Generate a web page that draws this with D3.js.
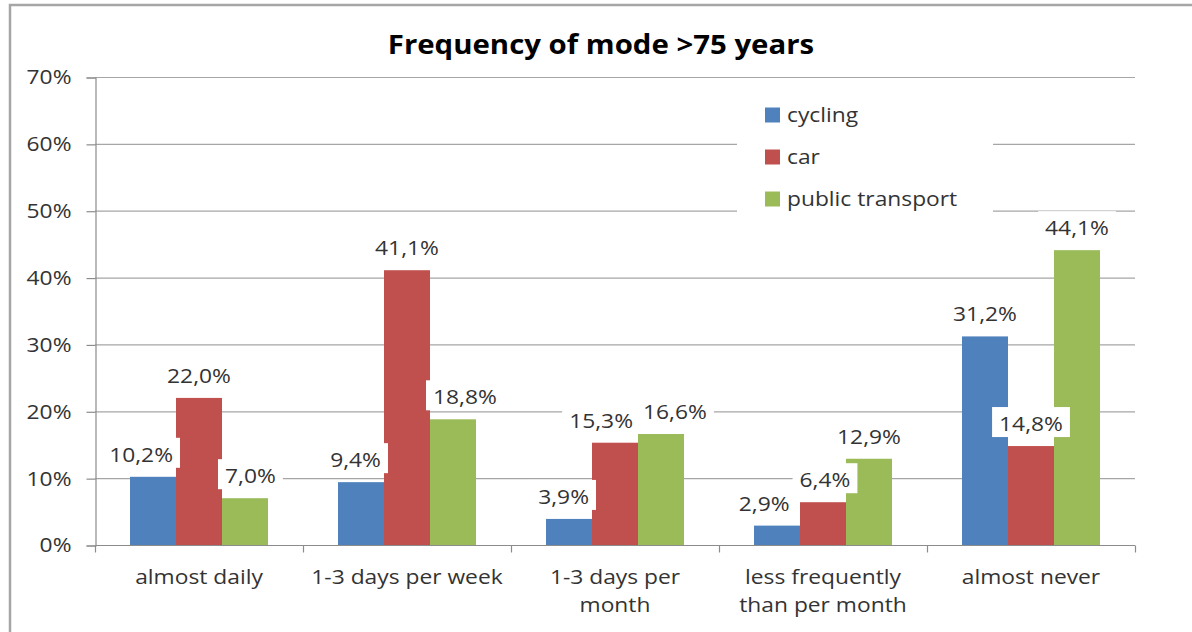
<!DOCTYPE html>
<html><head><meta charset="utf-8">
<script src="https://cdn.jsdelivr.net/npm/d3@7"></script>
<style>body{margin:0;background:#fff;} svg{display:block;} text{font-family:"Open Sans",sans-serif;}</style>
</head><body><svg id="c" width="1192" height="632"></svg>
<script>
const categories = [["almost daily"],["1-3 days per week"],["1-3 days per","month"],["less frequently","than per month"],["almost never"]];
const seriesNames = ["cycling","car","public transport"];
const cycling = [10.2, 9.4, 3.9, 2.9, 31.2];
const car = [22.0, 41.1, 15.3, 6.4, 14.8];
const publicTransport = [7.0, 18.8, 16.6, 12.9, 44.1];
const yTicks = [0,10,20,30,40,50,60,70];
const colors = ["#4F81BD","#C0504D","#9BBB59"];
const seriesValues = [cycling, car, publicTransport];

const FS = 20, SX = 1.14, TXT = "#333";
const svg = d3.select("#c");
const L=95, R=1135, T=77, B=545;

// horizontal stretch about the text's anchor point
function stretch(sel, sx){
  sel.each(function(){
    const t=d3.select(this);
    const x=+t.attr("x")||0;
    t.attr("transform",`translate(${x},0) scale(${sx},1) translate(${-x},0)`);
  });
}

// outer border
svg.append("rect").attr("x",10).attr("y",5).attr("width",1200).attr("height",700)
  .attr("fill","#fff").attr("stroke","#a6a6a6").attr("stroke-width",2.5);

const title = svg.append("text").attr("x",601).attr("y",54).attr("text-anchor","middle")
  .attr("font-size",26).attr("font-weight","bold").attr("fill","#000").text("Frequency of mode >75 years");
stretch(title, 1.13);

const x0 = d3.scaleBand().domain(d3.range(categories.length)).range([L,R]).paddingInner(0).paddingOuter(0);
const x1 = d3.scaleBand().domain(d3.range(3)).range([35, x0.bandwidth()-35]);
const y = d3.scaleLinear().domain([0,70]).range([B,T]);

// gridlines
svg.append("g").selectAll("line").data(yTicks.slice(1)).join("line")
  .attr("x1",L).attr("x2",R).attr("y1",d=>y(d)+0.5).attr("y2",d=>y(d)+0.5)
  .attr("stroke","#a6a6a6").attr("stroke-width",1.2);

// y axis
const yAxis = d3.axisLeft(y).tickValues(yTicks).tickFormat(d=>d+"%").tickSize(9).tickPadding(15);
const gy = svg.append("g").attr("transform",`translate(${L+0.5},0.5)`).call(yAxis);
gy.select(".domain").attr("stroke","#8c8c8c").attr("stroke-width",1.2);
gy.selectAll(".tick line").attr("stroke","#8c8c8c").attr("stroke-width",1.2);
gy.selectAll("text").attr("font-size",FS).attr("fill",TXT).attr("font-family","Open Sans");
stretch(gy.selectAll("text"), SX);

// x axis
const gx = svg.append("g").attr("transform",`translate(0,${B+0.5})`);
gx.append("line").attr("x1",L).attr("x2",R).attr("stroke","#8c8c8c").attr("stroke-width",1.2);
gx.selectAll(".tk").data(d3.range(categories.length+1)).join("line").attr("class","tk")
  .attr("x1",i=>Math.round(L+i*x0.bandwidth())+0.5).attr("x2",i=>Math.round(L+i*x0.bandwidth())+0.5)
  .attr("y1",0).attr("y2",7).attr("stroke","#8c8c8c").attr("stroke-width",1.2);
const xl = gx.selectAll(".xl").data(categories).join("text").attr("class","xl")
  .attr("text-anchor","middle").attr("font-size",FS).attr("fill",TXT)
  .attr("x",(d,i)=>x0(i)+x0.bandwidth()/2);
xl.each(function(lines,i){
  const t=d3.select(this);
  lines.forEach((s,j)=>t.append("tspan").attr("x",x0(i)+x0.bandwidth()/2).attr("y",39+j*28).text(s));
});
stretch(xl, SX);

// bars
const groups = svg.append("g").selectAll("g").data(categories).join("g")
  .attr("transform",(d,i)=>`translate(${x0(i)},0)`);
groups.selectAll("rect").data((d,i)=>seriesValues.map((s,k)=>({k,v:s[i]}))).join("rect")
  .attr("x",d=>x1(d.k)).attr("width",x1.bandwidth()).attr("y",d=>y(d.v)).attr("height",d=>B-y(d.v))
  .attr("fill",d=>colors[d.k]);

// labels
const fmt = v=>v.toFixed(1).replace(".",",")+"%";
const labelG = svg.append("g");
const bw = x1.bandwidth();
categories.forEach((c,i)=>{
  const vals = seriesValues.map(s=>s[i]);
  const items = vals.map((v,k)=>{
    const g = labelG.append("g");
    const cx = x0(i)+x1(k)+bw/2;
    const dc = y(v)-22;
    const t = g.append("text").attr("x",cx).attr("y",dc+7).attr("text-anchor","middle")
      .attr("font-size",FS).attr("fill",TXT).text(fmt(v));
    const w = t.node().getBBox().width*SX;
    return {g,t,cx,dc,w,k};
  });
  // shift a label away from a taller neighbouring bar
  items.forEach(it=>{
    const k=it.k;
    const leftT = k>0 && y(vals[k-1]) < it.dc+10;
    const rightT = k<2 && y(vals[k+1]) < it.dc+10;
    const sh = Math.max(0,(it.w-bw)/2+3);
    if(leftT && !rightT) it.cx += sh;
    if(rightT && !leftT) it.cx -= sh;
  });
  // resolve overlaps between neighbouring labels
  for(let k=0;k<2;k++){
    const a=items[k], b=items[k+1];
    if(Math.abs(a.dc-b.dc)<26){
      const need=(a.w+b.w)/2+10 - (b.cx-a.cx);
      if(need>0){a.cx-=need/2; b.cx+=need/2;}
    }
  }
  items.forEach(it=>{
    it.t.attr("x",it.cx);
    stretch(it.t, SX);
    it.g.insert("rect","text").attr("x",it.cx-it.w/2-7).attr("y",it.dc-17).attr("width",it.w+14).attr("height",30).attr("fill","#fff");
  });
});

// legend
const lg = svg.append("g");
lg.append("rect").attr("x",737).attr("y",93).attr("width",256).attr("height",126).attr("fill","#fff");
seriesNames.forEach((n,k)=>{
  const yy = 115 + k*42;
  lg.append("rect").attr("x",765).attr("y",yy-7.5).attr("width",15).attr("height",15).attr("fill",colors[k]);
  const t = lg.append("text").attr("x",787).attr("y",yy+7).attr("font-size",FS).attr("fill",TXT).text(n);
  stretch(t, SX);
});
</script></body></html>
